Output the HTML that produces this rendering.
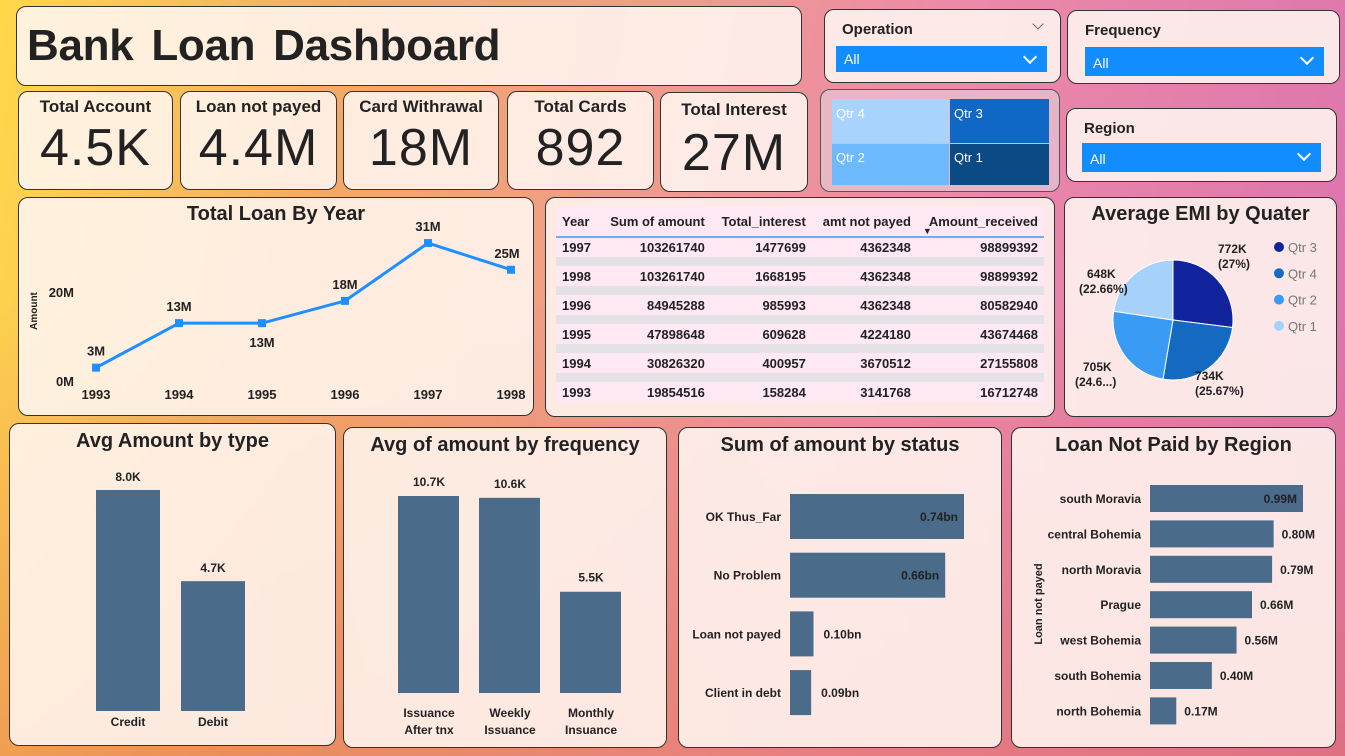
<!DOCTYPE html>
<html><head><meta charset="utf-8">
<style>
*{box-sizing:border-box;margin:0;padding:0}
body{width:1345px;height:756px;overflow:hidden;font-family:"Liberation Sans","DejaVu Sans",sans-serif;position:relative;
background:linear-gradient(100deg,#FFD84A 0%,#F3A866 25%,#EE9C8C 45%,#EC8AA8 65%,#DB72AE 100%);}
.bg2{position:absolute;left:0;top:0;width:1345px;height:756px;background:linear-gradient(180deg,rgba(230,120,70,0) 40%,rgba(225,110,80,.45) 100%);}
.p{position:absolute;background:rgba(255,246,240,.88);border:1.5px solid #333;border-radius:10px}
.kl{position:absolute;top:5px;left:0;right:0;text-align:center;font-weight:bold;font-size:17px;color:#222}
.kv{position:absolute;top:26px;left:0;right:0;text-align:center;font-size:52px;color:#222;letter-spacing:1px}
.sl{position:absolute;font-weight:bold;font-size:15px;color:#222}
.dd{position:absolute;background:#118DFF;color:#fff;font-size:14px;padding:5px 8px}
.dd:after{content:"";position:absolute;right:12px;top:6px;width:8px;height:8px;border-right:2px solid #fff;border-bottom:2px solid #fff;transform:rotate(45deg)}
.t{position:absolute;left:0;right:0;text-align:center;font-weight:bold;font-size:20px;color:#222}
svg{position:absolute;left:0;top:0}
svg text{font-family:"Liberation Sans",sans-serif}
table{position:absolute;left:10px;top:8px;width:488px;border-collapse:collapse;font-size:13px;font-weight:bold;color:#222}
td,th{text-align:right;padding:0 6px;background:#FDE8F4}
th{height:31px;border-bottom:2px solid #6AAEF0;vertical-align:middle}
td{height:20px}
tr.g td{height:9px;background:#E4E2E4;padding:0}
</style></head><body>
<div class="bg2"></div>

<div class="p" style="left:16px;top:6px;width:786px;height:80px">
<div style="position:absolute;left:10px;top:14px;font-size:44px;font-weight:bold;color:#222;word-spacing:6px;letter-spacing:-0.3px">Bank Loan Dashboard</div></div>

<div class="p" style="left:18px;top:91px;width:155px;height:99px"><div class="kl">Total Account</div><div class="kv">4.5K</div></div>
<div class="p" style="left:180px;top:91px;width:157px;height:99px"><div class="kl">Loan not payed</div><div class="kv">4.4M</div></div>
<div class="p" style="left:343px;top:91px;width:156px;height:99px"><div class="kl">Card Withrawal</div><div class="kv">18M</div></div>
<div class="p" style="left:507px;top:91px;width:147px;height:99px"><div class="kl">Total Cards</div><div class="kv">892</div></div>
<div class="p" style="left:660px;top:92px;width:148px;height:100px"><div class="kl" style="top:7px">Total Interest</div><div class="kv" style="top:30px">27M</div></div>

<div class="p" style="left:824px;top:9px;width:237px;height:74px">
<div class="sl" style="left:17px;top:11px">Operation</div>
<div style="position:absolute;right:18px;top:10px;width:8px;height:8px;border-right:1.5px solid #666;border-bottom:1.5px solid #666;transform:rotate(45deg)"></div>
<div class="dd" style="left:11px;top:36px;width:211px;height:26px">All</div></div>
<div class="p" style="left:1067px;top:10px;width:273px;height:74px">
<div class="sl" style="left:17px;top:11px">Frequency</div>
<div class="dd" style="left:17px;top:36px;width:239px;height:29px;padding-top:8px">All</div></div>
<div class="p" style="left:1066px;top:108px;width:271px;height:74px">
<div class="sl" style="left:17px;top:11px">Region</div>
<div class="dd" style="left:15px;top:34px;width:239px;height:29px;padding-top:8px">All</div></div>

<div class="p" style="left:820px;top:89px;width:240px;height:103px;background:rgba(230,200,215,.7);border-color:#555">
<div style="position:absolute;left:11px;top:9px;width:117px;height:44px;background:#A7D3FD;color:#fff;font-size:13px;padding:7px 4px">Qtr 4</div>
<div style="position:absolute;left:129px;top:9px;width:99px;height:44px;background:#1068C6;color:#fff;font-size:13px;padding:7px 4px">Qtr 3</div>
<div style="position:absolute;left:11px;top:54px;width:117px;height:41px;background:#6CB9FD;color:#fff;font-size:13px;padding:6px 4px">Qtr 2</div>
<div style="position:absolute;left:129px;top:54px;width:99px;height:41px;background:#0B4A85;color:#fff;font-size:13px;padding:6px 4px">Qtr 1</div>
</div>

<div class="p" style="left:18px;top:197px;width:516px;height:219px">
<div class="t" style="top:5px">Total Loan By Year</div><svg id="line" width="516" height="219"></svg></div>

<div class="p" style="left:545px;top:197px;width:510px;height:220px">
<table>
<tr><th style="text-align:left">Year</th><th>Sum of amount</th><th>Total_interest</th><th>amt not payed</th><th style="position:relative">Amount_received<span style="position:absolute;left:6px;bottom:0;font-size:9px">▼</span></th></tr>
<tr><td style="text-align:left">1997</td><td>103261740</td><td>1477699</td><td>4362348</td><td>98899392</td></tr><tr class="g"><td></td><td></td><td></td><td></td><td></td></tr>
<tr><td style="text-align:left">1998</td><td>103261740</td><td>1668195</td><td>4362348</td><td>98899392</td></tr><tr class="g"><td></td><td></td><td></td><td></td><td></td></tr>
<tr><td style="text-align:left">1996</td><td>84945288</td><td>985993</td><td>4362348</td><td>80582940</td></tr><tr class="g"><td></td><td></td><td></td><td></td><td></td></tr>
<tr><td style="text-align:left">1995</td><td>47898648</td><td>609628</td><td>4224180</td><td>43674468</td></tr><tr class="g"><td></td><td></td><td></td><td></td><td></td></tr>
<tr><td style="text-align:left">1994</td><td>30826320</td><td>400957</td><td>3670512</td><td>27155808</td></tr><tr class="g"><td></td><td></td><td></td><td></td><td></td></tr>
<tr><td style="text-align:left">1993</td><td>19854516</td><td>158284</td><td>3141768</td><td>16712748</td></tr>
</table></div>

<div class="p" style="left:1064px;top:197px;width:273px;height:220px">
<div class="t" style="top:5px">Average EMI by Quater</div><svg id="pie" width="273" height="220"></svg></div>

<div class="p" style="left:9px;top:423px;width:327px;height:323px">
<div class="t" style="top:6px">Avg Amount by type</div><svg id="b1" width="327" height="323"></svg></div>
<div class="p" style="left:343px;top:427px;width:324px;height:321px">
<div class="t" style="top:6px">Avg of amount by frequency</div><svg id="b2" width="324" height="321"></svg></div>
<div class="p" style="left:678px;top:427px;width:324px;height:321px">
<div class="t" style="top:6px">Sum of amount by status</div><svg id="b3" width="324" height="321"></svg></div>
<div class="p" style="left:1011px;top:427px;width:325px;height:321px">
<div class="t" style="top:6px">Loan Not Paid by Region</div><svg id="b4" width="325" height="321"></svg></div>

<script>
const NS="http://www.w3.org/2000/svg";
function mk(p,tag,a,txt){const e=document.createElementNS(NS,tag);for(const k in a)e.setAttribute(k,a[k]);if(txt!==undefined)e.textContent=txt;p.appendChild(e);return e;}

// Line chart data
const years=["1993","1994","1995","1996","1997","1998"];
const loanM=[3,13,13,18,31,25];
const yTicks=[0,20];
(function(){
const s=document.getElementById('line');
const x=i=>77+i*83, y=v=>183-v*4.45;
yTicks.forEach(t=>{const e=mk(s,'text',{x:55,y:y(t)+5,'text-anchor':'end','font-size':13,'font-weight':'bold',fill:'#222'},t+'M');

});
const yt=mk(s,'text',{x:18,y:113,'font-size':10,'font-weight':'bold',fill:'#222',transform:'rotate(-90 18 113)','text-anchor':'middle'},'Amount');


const pl=mk(s,'polyline',{points:loanM.map((v,i)=>x(i)+','+y(v)).join(' '),fill:'none',stroke:'#1F8FFF','stroke-width':3});


loanM.forEach((v,i)=>{
 const r=mk(s,'rect',{x:x(i)-4,y:y(v)-4,width:8,height:8,fill:'#1F8FFF'});
 
 
 const below=(i==2);
 const lx=i==5?x(i)-4:x(i);
 const ly=below?y(v)+24:y(v)-12;
 const l=mk(s,'text',{x:lx,y:ly,'text-anchor':'middle','font-size':13,'font-weight':'bold',fill:'#222'},v+'M');
 
 
 const xl=mk(s,'text',{x:x(i),y:201,'text-anchor':'middle','font-size':13,'font-weight':'bold',fill:'#222'},years[i]);
 
 
});
})();

// Pie data
const quarters=["Qtr 3","Qtr 4","Qtr 2","Qtr 1"];
const emiK=[772,734,705,648];
const emiLabels=["772K\n(27%)","734K\n(25.67%)","705K\n(24.6...)","648K\n(22.66%)"];
const qColors=["#12239E","#1469C0","#3A9BF5","#A6D1FB"];
(function(){
const s=document.getElementById('pie');const cx=108,cy=122,r=60;
const tot=emiK.reduce((a,b)=>a+b,0);let a0=-Math.PI/2;
const lp=[[153,55,'start'],[130,182,'start'],[10,173,'start'],[14,80,'start']];
emiK.forEach((v,i)=>{const a1=a0+v/tot*2*Math.PI;
 const p=mk(s,'path',{d:`M${cx},${cy}L${cx+r*Math.cos(a0)},${cy+r*Math.sin(a0)}A${r},${r} 0 0 1 ${cx+r*Math.cos(a1)},${cy+r*Math.sin(a1)}Z`,fill:qColors[i],stroke:'#fff','stroke-width':1});
 
 
 const parts=emiLabels[i].split('\n');const L=lp[i];
 const t=mk(s,'text',{x:L[0],y:L[1],'text-anchor':L[2],'font-size':12,'font-weight':'bold',fill:'#222'});
 
 
 const off=(i>=2)?[8,0]:[0,0];
 mk(t,'tspan',{x:L[0]+off[0],dy:0},parts[0]);mk(t,'tspan',{x:L[0],dy:15},parts[1]);
 a0=a1;
 const ly=49+i*26.3;
 const c=mk(s,'circle',{cx:214,cy:ly,r:5,fill:qColors[i]});
 
 
 const lt=mk(s,'text',{x:223,y:ly+5,'font-size':13,fill:'#777'},quarters[i]);
 
 
});
})();

const BAR="#4A6B8A";
// Avg amount by type
const types=["Credit","Debit"];
const typeK=[8.0,4.7];
(function(){const s=document.getElementById('b1');const base=287,k=221/8.0;
types.forEach((c,i)=>{const x=86+i*85,h=typeK[i]*k;
 const r=mk(s,'rect',{x:x,y:base-h,width:64,height:h,fill:BAR});
 
 
 const v=mk(s,'text',{x:x+32,y:base-h-9,'text-anchor':'middle','font-size':12,'font-weight':'bold',fill:'#222'},typeK[i].toFixed(1)+'K');
 
 
 const l=mk(s,'text',{x:x+32,y:302,'text-anchor':'middle','font-size':12,'font-weight':'bold',fill:'#222'},c);
 
 });})();

// Avg by frequency
const freqs=["Issuance|After tnx","Weekly|Issuance","Monthly|Insuance"];
const freqK=[10.7,10.6,5.5];
(function(){const s=document.getElementById('b2');const base=265,k=197/10.7;
freqs.forEach((c,i)=>{const x=54+i*81,h=freqK[i]*k;
 const r=mk(s,'rect',{x:x,y:base-h,width:61,height:h,fill:BAR});
 
 
 const v=mk(s,'text',{x:x+31,y:base-h-10,'text-anchor':'middle','font-size':12,'font-weight':'bold',fill:'#222'},freqK[i].toFixed(1)+'K');
 
 
 const p=c.split('|');
 const l=mk(s,'text',{x:x+31,y:289,'text-anchor':'middle','font-size':12,'font-weight':'bold',fill:'#222'});
 
 
 mk(l,'tspan',{x:x+31,dy:0},p[0]);mk(l,'tspan',{x:x+31,dy:17},p[1]);});})();

// Sum by status
const statuses=["OK Thus_Far","No Problem","Loan not payed","Client in debt"];
const statusBn=[0.74,0.66,0.10,0.09];
(function(){const s=document.getElementById('b3');const x0=111,k=174/0.74;
statuses.forEach((c,i)=>{const y=66+i*58.7,w=statusBn[i]*k;
 const r=mk(s,'rect',{x:x0,y:y,width:w,height:45,fill:BAR});
 
 
 const inside=w>60;
 const v=mk(s,'text',{x:inside?x0+w-6:x0+w+10,y:y+27,'text-anchor':inside?'end':'start','font-size':12,'font-weight':'bold',fill:'#222'},statusBn[i].toFixed(2)+'bn');
 
 
 const l=mk(s,'text',{x:102,y:y+27,'text-anchor':'end','font-size':12,'font-weight':'bold',fill:'#222'},c);
 
 });})();

// Loan not paid by region
const regions=["south Moravia","central Bohemia","north Moravia","Prague","west Bohemia","south Bohemia","north Bohemia"];
const regionM=[0.99,0.80,0.79,0.66,0.56,0.40,0.17];
(function(){const s=document.getElementById('b4');const x0=138,k=153/0.99;
const yt=mk(s,'text',{x:30,y:176,'font-size':11,'font-weight':'bold',fill:'#222','text-anchor':'middle',transform:'rotate(-90 30 176)'},'Loan not payed');


regions.forEach((c,i)=>{const y=57+i*35.4,w=regionM[i]*k;
 const r=mk(s,'rect',{x:x0,y:y,width:w,height:27,fill:BAR});
 
 
 const inside=i==0;
 const v=mk(s,'text',{x:inside?x0+w-6:x0+w+8,y:y+18,'text-anchor':inside?'end':'start','font-size':12,'font-weight':'bold',fill:'#222'},regionM[i].toFixed(2)+'M');
 
 
 const l=mk(s,'text',{x:129,y:y+18,'text-anchor':'end','font-size':12,'font-weight':'bold',fill:'#222'},c);
 
 });})();
</script>
</body></html>
